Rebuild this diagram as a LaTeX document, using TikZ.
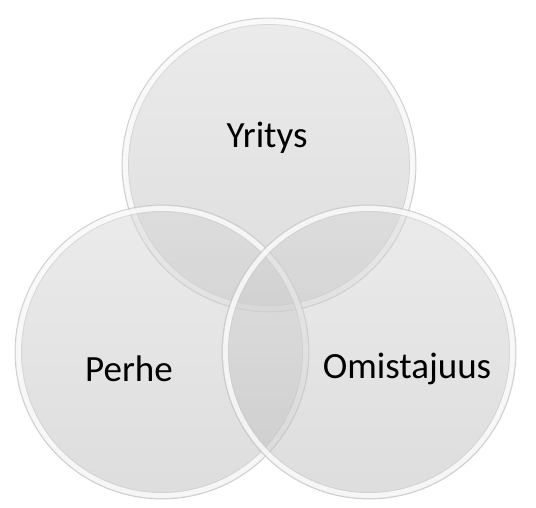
\documentclass[tikz,border=0pt]{standalone}
\usepackage{fontspec}
\setmainfont{Carlito}
\definecolor{shtop}{gray}{0.85}
\definecolor{shbot}{gray}{0.74}
\tikzset{
  venn/.style={circle, minimum size=294pt, inner sep=0pt, draw=gray!45, line width=0.8pt,
     top color=shtop, bottom color=shbot, fill opacity=0.5, draw opacity=0.8},
  rimband/.style={draw=white, line width=5pt, draw opacity=0.75},
  rimline/.style={draw=gray!45, line width=0.7pt, draw opacity=0.55},
  lbl/.style={font=\fontsize{37}{40}\selectfont, text=black}
}
\begin{document}
\begin{tikzpicture}[x=1pt,y=1pt]
\useasboundingbox (0,0) rectangle (536,507);
\fill[white] (0,0) rectangle (536,507);
% circles (y = 507 - image y)
\node[venn] (c1) at (269,342) {};
\draw[rimband] (c1.center) circle (143.5);
\draw[rimline] (c1.center) circle (140.5);
\node[venn] (c2) at (162,155) {};
\draw[rimband] (c2.center) circle (143.5);
\draw[rimline] (c2.center) circle (140.5);
\node[venn] (c3) at (369,155) {};
\draw[rimband] (c3.center) circle (143.5);
\draw[rimline] (c3.center) circle (140.5);
% labels
\node[lbl] (t1) at (267,369) {Yritys};
\node[lbl] (t2) at (129,138) {Perhe};
\node[lbl] (t3) at (407,138) {Omistajuus};
\end{tikzpicture}
\end{document}
